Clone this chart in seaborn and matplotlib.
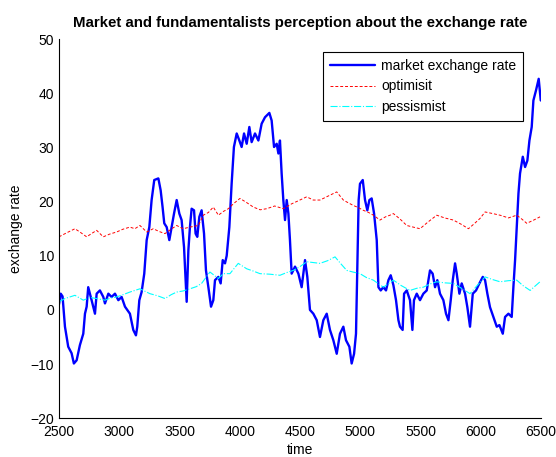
import matplotlib
matplotlib.use("Agg")
import matplotlib.pyplot as plt
import seaborn as sns

# Data

market_time = [
    2500, 2515, 2530, 2550, 2577, 2605, 2624, 2647, 2674, 2702, 2716, 2730,
    2743, 2771, 2799, 2813, 2840, 2868, 2882, 2910, 2937, 2965, 2993, 3020,
    3048, 3089, 3117, 3139, 3150, 3167, 3186, 3208, 3228, 3250, 3269, 3291,
    3325, 3344, 3360, 3374, 3394, 3416, 3435, 3455, 3477, 3499, 3518, 3538,
    3551, 3560, 3574, 3587, 3601, 3621, 3634, 3648, 3665, 3684, 3704, 3720,
    3740, 3762, 3781, 3795, 3823, 3842, 3859, 3878, 3892, 3914, 3933, 3952,
    3975, 3997, 4016, 4036, 4058, 4080, 4099, 4127, 4155, 4182, 4210, 4246,
    4265, 4285, 4307, 4321, 4334, 4348, 4362, 4376, 4390, 4404, 4417, 4431,
    4459, 4487, 4514, 4542, 4561, 4583, 4611, 4639, 4666, 4694, 4722, 4749,
    4777, 4805, 4832, 4860, 4882, 4910, 4929, 4949, 4965, 4976, 4987, 4998,
    5021, 5040, 5059, 5076, 5095, 5115, 5137, 5151, 5170, 5192, 5214, 5234,
    5253, 5275, 5297, 5317, 5330, 5352, 5364, 5386, 5413, 5433, 5446, 5469,
    5496, 5524, 5552, 5579, 5601, 5621, 5640, 5662, 5690, 5712, 5732, 5751,
    5768, 5787, 5801, 5823, 5842, 5870, 5889, 5911, 5934, 5961, 5989, 6017,
    6036, 6055, 6077, 6105, 6133, 6155, 6183, 6202, 6230, 6257, 6271, 6285,
    6299, 6313, 6326, 6349, 6368, 6387, 6404, 6423, 6437, 6459, 6481, 6498,
]
market_rate = [
    1.0, 3.0, 2.5, -3.1, -6.8, -8.0, -9.9, -9.3, -6.5, -4.4, -0.7, 0.6,
    4.2, 1.8, -0.7, 3.0, 3.6, 2.4, 1.2, 3.0, 2.4, 3.0, 1.8, 2.4,
    0.6, -0.7, -3.7, -4.7, -3.1, 1.8, 3.3, 6.7, 12.9, 15.3, 20.3, 24.0,
    24.3, 22.1, 19.0, 16.0, 15.3, 12.9, 15.3, 17.8, 20.3, 17.8, 16.6, 11.6,
    5.5, 1.5, 11.0, 15.3, 18.7, 18.4, 14.1, 13.5, 17.2, 18.4, 14.1, 7.3,
    4.2, 0.6, 1.8, 5.5, 6.1, 4.9, 9.2, 8.6, 10.0, 15.3, 23.3, 30.1,
    32.6, 31.3, 30.1, 32.6, 30.7, 33.8, 31.0, 32.6, 31.3, 34.4, 35.6, 36.4,
    35.0, 30.1, 30.7, 28.9, 31.3, 25.2, 20.3, 16.6, 20.3, 17.8, 12.9, 6.7,
    8.0, 6.7, 4.2, 9.2, 6.1, 0.0, -0.7, -1.9, -5.0, -1.9, -0.7, -3.7,
    -5.6, -8.1, -4.4, -3.1, -5.6, -6.8, -9.9, -8.1, -4.4, 7.9, 20.3, 23.3,
    24.0, 20.3, 18.4, 20.3, 20.6, 17.8, 12.9, 4.2, 3.6, 4.2, 3.6, 5.5,
    6.4, 4.6, 1.8, -1.9, -3.1, -3.7, 3.0, 3.6, 1.8, -3.7, 1.8, 3.0,
    1.8, 3.0, 3.6, 7.3, 6.7, 4.2, 5.5, 3.0, 1.8, -0.7, -1.9, 1.8,
    5.5, 8.6, 6.7, 3.0, 4.9, 3.0, 0.5, -3.1, 3.0, 3.6, 4.9, 6.1,
    5.5, 3.0, 0.5, -1.3, -3.1, -2.8, -4.4, -1.3, -0.7, -1.3, 4.2, 9.2,
    15.3, 21.5, 25.2, 28.3, 26.4, 27.6, 31.3, 33.8, 38.7, 40.6, 42.7, 38.7,
]

optimist_time = [
    2500, 2560, 2633, 2680, 2730, 2770, 2813, 2868, 2920, 2979, 3030, 3089,
    3130, 3172, 3228, 3283, 3330, 3380, 3430, 3477, 3530, 3587, 3657, 3698,
    3740, 3781, 3823, 3865, 3906, 3947, 4002, 4060, 4113, 4170, 4224, 4290,
    4362, 4431, 4490, 4556, 4610, 4666, 4749, 4805, 4860, 4900, 4943, 4985,
    5026, 5070, 5109, 5164, 5210, 5247, 5275, 5330, 5386, 5440, 5496, 5560,
    5635, 5700, 5773, 5840, 5898, 5950, 5994, 6036, 6100, 6160, 6230, 6299,
    6340, 6382, 6440, 6492,
]
optimist_rate = [
    13.5, 14.2, 15.0, 14.3, 13.5, 14.1, 14.7, 13.5, 14.0, 14.4, 14.9, 15.3,
    15.0, 15.6, 14.4, 15.0, 14.5, 14.1, 14.9, 15.6, 15.0, 15.3, 15.6, 17.5,
    18.0, 19.0, 17.5, 18.2, 18.7, 19.6, 20.6, 19.8, 19.0, 18.5, 18.7, 19.2,
    18.7, 19.6, 20.2, 20.9, 20.3, 20.3, 21.2, 21.8, 20.3, 19.8, 19.3, 18.9,
    18.4, 18.0, 17.5, 16.6, 17.2, 17.5, 17.8, 16.8, 15.6, 15.3, 15.0, 16.2,
    17.5, 17.0, 16.6, 15.8, 15.0, 16.0, 16.9, 18.1, 17.8, 17.5, 17.0, 17.5,
    16.8, 16.0, 16.6, 17.2,
]

pessimist_time = [
    2500, 2550, 2633, 2702, 2760, 2813, 2882, 2930, 2979, 3030, 3089, 3130,
    3172, 3255, 3320, 3380, 3430, 3477, 3530, 3587, 3640, 3684, 3753, 3823,
    3864, 3919, 3988, 4058, 4110, 4168, 4250, 4334, 4390, 4445, 4500, 4556,
    4666, 4730, 4791, 4840, 4888, 4940, 4998, 5050, 5109, 5192, 5275, 5340,
    5413, 5470, 5524, 5580, 5635, 5700, 5773, 5840, 5911, 5970, 6036, 6100,
    6160, 6230, 6299, 6350, 6410, 6492,
]
pessimist_rate = [
    1.5, 2.1, 2.7, 1.8, 2.3, 2.1, 1.8, 2.2, 2.4, 2.8, 3.3, 3.6,
    3.9, 3.0, 2.6, 2.1, 2.8, 3.3, 3.5, 3.9, 4.3, 4.9, 7.0, 5.8,
    6.7, 6.7, 8.6, 7.6, 7.2, 6.7, 6.6, 6.4, 6.9, 7.3, 8.0, 8.9,
    8.6, 9.1, 9.8, 8.5, 7.3, 7.0, 6.7, 6.0, 5.5, 4.2, 5.5, 4.5,
    3.6, 4.0, 4.2, 4.8, 5.2, 5.0, 4.9, 4.0, 3.0, 4.5, 6.1, 5.6,
    5.2, 5.4, 5.5, 4.5, 3.6, 5.2,
]

# Plot

sns.set_style("white")
plt.rcParams["font.family"] = ["Liberation Sans", "DejaVu Sans"]
plt.rcParams["text.color"] = "black"
plt.rcParams["axes.labelcolor"] = "black"

fig = plt.figure(figsize=(5.56, 4.57), dpi=100)
ax = fig.add_axes([0.106, 0.085, 0.867, 0.829])

sns.lineplot(
    x=market_time,
    y=market_rate,
    ax=ax,
    color="#0000ff",
    linewidth=1.7,
    label="market exchange rate"
)

sns.lineplot(
    x=optimist_time,
    y=optimist_rate,
    ax=ax,
    color="#ff0000",
    linewidth=0.7,
    linestyle=(0, (3, 2)),
    label="optimisit"
)

sns.lineplot(
    x=pessimist_time,
    y=pessimist_rate,
    ax=ax,
    color="#00ffff",
    linewidth=0.8,
    linestyle="-.",
    label="pessismist"
)

ax.set_xlim(2500, 6500)
ax.set_ylim(-20, 50)
ax.set_xticks(range(2500, 6501, 500))
ax.set_yticks(range(-20, 51, 10))
ax.tick_params(direction="in", length=4, labelsize=10, colors="black")
ax.tick_params(axis="x", pad=5)

for side in ["top", "right"]:
    ax.spines[side].set_visible(False)
for side in ["left", "bottom"]:
    ax.spines[side].set_color("black")
    ax.spines[side].set_linewidth(0.8)

ax.set_title(
    "Market and fundamentalists perception about the exchange rate",
    fontsize=10.8,
    fontweight="bold",
    color="black",
    pad=9
)
ax.set_xlabel("time", fontsize=10, labelpad=3)
ax.set_ylabel("exchange rate", fontsize=10, labelpad=5)

leg = ax.legend(
    loc="upper right",
    bbox_to_anchor=(0.963, 0.966),
    borderaxespad=0,
    fontsize=10,
    frameon=True,
    fancybox=False,
    framealpha=1,
    edgecolor="black",
    handlelength=3.2,
    handletextpad=0.45,
    borderpad=0.5,
    labelspacing=0.45
)
leg.get_frame().set_linewidth(0.8)
for text in leg.get_texts():
    text.set_color("black")

fig.savefig("out.png", dpi=100)
